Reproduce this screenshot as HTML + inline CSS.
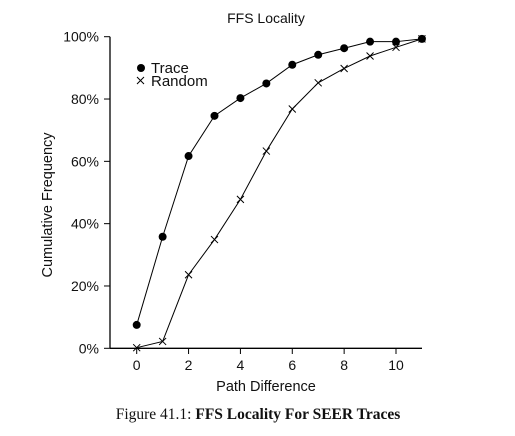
<!DOCTYPE html>
<html><head><meta charset="utf-8"><style>
body{margin:0;background:#fff;width:515px;height:436px;overflow:hidden}
svg{display:block}
text{font-family:"Liberation Sans",sans-serif;fill:#111}
</style></head><body>
<svg width="515" height="436">
<text x="266" y="23" font-size="14" text-anchor="middle">FFS Locality</text>
<g id="axes"></g>
<g id="marks"></g>
<g>
<circle cx="141" cy="68" r="4" fill="#000"/>
<text x="151" y="73" font-size="15">Trace</text>
<path d="M137,77 l7,7 M144,77 l-7,7" stroke="#000" stroke-width="1"/>
<text x="151" y="86" font-size="15">Random</text>
</g>
<text x="266" y="391" font-size="14.5" text-anchor="middle">Path Difference</text>
<text transform="translate(52,205) rotate(-90)" font-size="14.5" text-anchor="middle">Cumulative Frequency</text>
<text x="258" y="419" font-size="15.5" text-anchor="middle" style="font-family:'Liberation Serif',serif">Figure 41.1: <tspan font-weight="bold" style="font-family:'Liberation Serif',serif">FFS Locality For SEER Traces</tspan></text>
</svg>
<script>
const xValues=[0,1,2,3,4,5,6,7,8,9,10,11];
const traceValues=[7.5,35.8,61.7,74.6,80.3,85,91,94.2,96.3,98.4,98.4,99.3];
const randomValues=[0.2,2.2,23.6,34.9,47.8,63.3,76.8,85.2,89.8,93.8,96.6,99.3];
const xTicks=[0,2,4,6,8,10];
const yTicks=[0,20,40,60,80,100];
const NS="http://www.w3.org/2000/svg";
function sx(v){return 136.7+v*25.93;}
function sy(v){return 348.3-v*3.116;}
function mk(tag,attrs,parent){const e=document.createElementNS(NS,tag);for(const k in attrs)e.setAttribute(k,attrs[k]);parent.appendChild(e);return e;}
const axes=document.getElementById('axes'),marks=document.getElementById('marks');
let e=mk('line',{x1:110,y1:348.3,x2:422,y2:348.3,stroke:'#000','stroke-width':1.3},axes);


e=mk('line',{x1:110,y1:36.7,x2:110,y2:348.3,stroke:'#000','stroke-width':1.3},axes);


xTicks.forEach(t=>{
 let l=mk('line',{x1:sx(t),x2:sx(t),y1:348.3,y2:354,stroke:'#000'},axes);
 
 
 let tx=mk('text',{x:sx(t),y:370,'font-size':14,'text-anchor':'middle'},axes);tx.textContent=t;
 
 
});
yTicks.forEach(t=>{
 let l=mk('line',{x1:104,x2:110,y1:sy(t),y2:sy(t),stroke:'#000'},axes);
 
 
 let tx=mk('text',{x:99,y:sy(t)+5,'font-size':14,'text-anchor':'end'},axes);tx.textContent=t+'%';
 
 
});
function line(vals,name){
 let p=mk('polyline',{points:vals.map((v,i)=>sx(xValues[i])+','+sy(v)).join(' '),fill:'none',stroke:'#000','stroke-width':1},marks);
 
 
}
line(traceValues,'trace-line');
line(randomValues,'random-line');
traceValues.forEach((v,i)=>{
 let c=mk('circle',{cx:sx(xValues[i]),cy:sy(v),r:4,fill:'#000'},marks);
 
 
});
randomValues.forEach((v,i)=>{
 const x=sx(xValues[i]),y=sy(v);
 let p=mk('path',{d:`M${x-3.5},${y-3.5}l7,7M${x+3.5},${y-3.5}l-7,7`,stroke:'#000','stroke-width':1},marks);
 
 
});
</script>
</body></html>
